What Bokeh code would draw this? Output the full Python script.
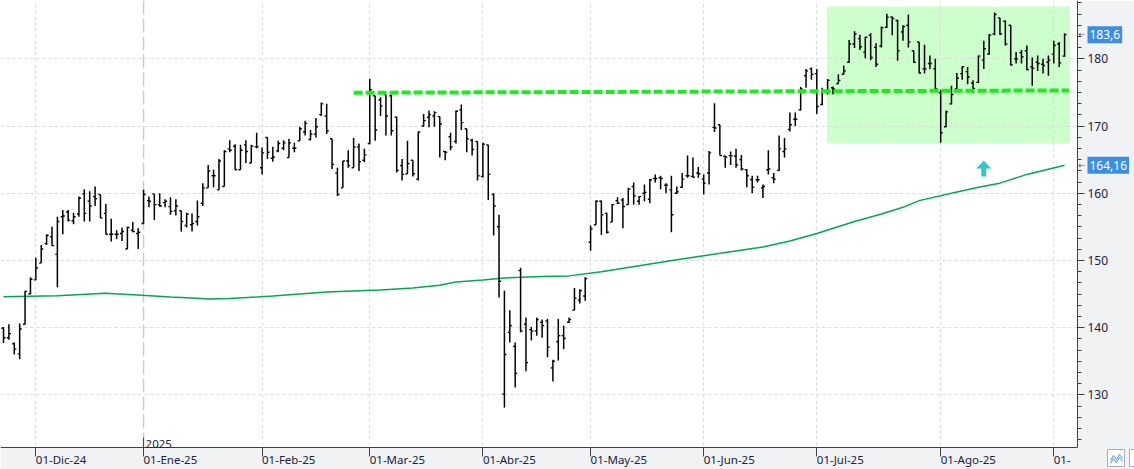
import pandas as pd
from bokeh.plotting import figure
from bokeh.models import Range1d, FixedTicker, SingleIntervalTicker, Span, Label, ColumnDataSource
from bokeh.embed import file_html
from bokeh.resources import INLINE

# ---------------- data ----------------
holidays = ["2024-12-25", "2024-12-26", "2025-01-01", "2025-04-18", "2025-04-21", "2025-05-01"]
dates = [d for d in pd.bdate_range("2024-11-22", "2025-09-03") if d.strftime("%Y-%m-%d") not in holidays]

opens = [
    139.9, 138.5, 137.6, 136.1, 140.5, 145.0, 147.1, 149.6, 152.5, 153.5,
    150.9, 156.5, 157.2, 155.9, 156.9, 159.9, 158.8, 159.5, 159.8, 157.0,
    153.9, 153.9, 154.0, 151.7, 154.5, 154.0, 155.5, 158.9, 159.9, 158.3,
    158.6, 158.0, 157.4, 157.4, 155.2, 155.3, 155.8, 158.5, 160.8, 162.6,
    160.5, 161.0, 166.6, 167.0, 163.5, 167.2, 164.5, 166.9, 163.8, 168.3,
    165.2, 166.3, 166.7, 165.3, 166.7, 167.8, 169.1, 168.0, 168.8, 171.7,
    171.5, 168.1, 163.0, 160.8, 164.8, 163.8, 166.9, 164.9, 167.4, 174.5,
    173.9, 174.7, 174.5, 171.3, 164.1, 162.9, 164.9, 162.1, 170.0, 171.3,
    171.5, 171.4, 166.2, 168.4, 167.7, 172.4, 169.6, 167.9, 167.7, 162.5,
    167.2, 159.8, 155.0, 130.1, 139.3, 137.2, 148.5, 140.5, 139.7, 139.5,
    140.8, 141.0, 134.0, 137.9, 138.8, 140.8, 142.6, 144.1, 144.7, 152.7,
    155.3, 158.8, 157.0, 155.7, 158.9, 159.0, 158.3, 161.0, 158.8, 160.0,
    159.1, 162.2, 162.3, 161.2, 160.5, 160.0, 160.9, 162.6, 162.5, 163.0,
    162.1, 163.0, 169.8, 170.2, 165.5, 165.6, 165.5, 165.0, 163.5, 162.0,
    162.0, 160.8, 163.5, 162.3, 163.4, 166.2, 169.5, 171.0, 172.4, 177.5,
    178.5, 177.8, 173.2, 175.0, 175.7, 176.3, 177.7, 179.5, 182.2, 183.0,
    181.0, 183.5, 181.7, 181.9, 184.7, 186.2, 185.7, 184.0, 185.0, 181.2,
    182.5, 178.5, 179.3, 178.5, 175.0, 169.9, 173.3, 175.5, 177.8, 178.1,
    176.4, 176.5, 179.8, 180.7, 183.7, 186.1, 185.6, 185.0, 180.0, 180.9,
    181.2, 178.8, 179.5, 179.2, 179.5, 180.7, 182.2, 180.4,
]
highs = [
    140.1, 140.5, 137.8, 140.6, 145.5, 147.5, 150.4, 152.3, 153.9, 155.0,
    156.5, 157.5, 157.5, 157.1, 159.5, 160.6, 160.3, 161.0, 159.8, 158.4,
    156.2, 154.5, 154.9, 155.0, 155.7, 154.8, 160.5, 159.5, 159.9, 160.0,
    159.1, 159.4, 159.1, 157.4, 157.1, 157.0, 158.9, 161.5, 164.2, 163.5,
    165.1, 166.4, 167.9, 167.3, 167.2, 167.9, 167.2, 169.0, 166.8, 168.3,
    166.9, 167.8, 167.9, 168.1, 167.5, 169.9, 170.8, 169.4, 171.2, 173.5,
    173.3, 168.1, 163.8, 164.8, 166.4, 168.2, 167.4, 166.6, 177.0, 174.5,
    174.3, 174.7, 174.7, 171.4, 165.1, 167.8, 164.9, 169.2, 171.8, 172.3,
    172.2, 171.4, 166.3, 169.0, 172.3, 173.2, 169.6, 168.1, 167.7, 167.5,
    167.2, 160.0, 156.8, 145.5, 142.6, 137.8, 148.9, 141.5, 140.1, 141.5,
    141.2, 141.3, 135.2, 141.3, 140.3, 141.5, 145.9, 145.7, 147.5, 155.2,
    158.9, 158.9, 157.1, 158.4, 159.4, 159.3, 160.8, 161.6, 159.6, 161.3,
    162.1, 162.8, 162.6, 161.5, 162.6, 161.0, 163.0, 165.6, 165.3, 163.9,
    162.8, 166.3, 173.4, 170.2, 165.6, 166.2, 166.6, 165.7, 163.6, 162.6,
    162.6, 161.3, 166.4, 163.0, 168.6, 168.2, 172.0, 172.0, 175.8, 178.5,
    178.7, 178.5, 175.7, 177.0, 175.9, 177.7, 179.0, 182.8, 184.1, 183.6,
    183.3, 183.8, 182.3, 184.8, 186.7, 186.3, 185.8, 185.0, 186.6, 181.2,
    182.5, 182.1, 180.5, 180.0, 175.4, 172.3, 176.0, 177.9, 178.9, 178.8,
    176.8, 180.5, 182.7, 183.7, 186.9, 186.1, 185.7, 185.0, 181.0, 181.3,
    182.0, 180.2, 180.5, 180.0, 180.5, 182.7, 182.5, 183.8,
]
lows = [
    137.7, 138.2, 136.0, 135.3, 140.5, 145.0, 147.1, 149.6, 152.3, 152.2,
    146.0, 153.9, 155.8, 155.4, 156.5, 155.8, 155.8, 158.1, 156.3, 153.9,
    152.8, 153.2, 152.9, 151.7, 154.2, 151.7, 155.5, 157.9, 156.0, 158.0,
    157.9, 156.8, 156.7, 154.3, 154.9, 154.3, 155.2, 158.1, 160.8, 160.9,
    160.5, 161.0, 166.1, 163.5, 163.5, 164.5, 164.5, 166.7, 162.8, 165.1,
    164.7, 166.1, 166.4, 165.3, 166.1, 167.8, 168.6, 167.9, 168.3, 171.5,
    168.8, 163.6, 159.6, 160.8, 163.8, 163.8, 163.3, 164.6, 167.3, 167.8,
    171.5, 168.6, 168.6, 163.1, 161.9, 162.9, 162.5, 161.9, 169.9, 169.8,
    169.9, 165.3, 164.9, 166.4, 167.4, 169.4, 166.1, 165.6, 161.9, 162.3,
    159.0, 153.7, 144.5, 128.1, 137.8, 131.1, 139.3, 133.5, 138.1, 138.8,
    138.5, 135.6, 132.0, 135.1, 136.8, 140.7, 142.6, 143.6, 144.0, 151.45,
    155.3, 153.8, 154.0, 155.7, 158.4, 154.8, 158.3, 158.3, 158.3, 158.8,
    158.5, 161.6, 160.6, 160.0, 154.2, 159.9, 160.8, 162.3, 162.3, 162.3,
    159.8, 161.3, 169.1, 165.6, 163.8, 164.2, 163.8, 163.4, 160.9, 160.0,
    161.6, 159.3, 162.8, 161.5, 163.3, 165.3, 169.2, 170.0, 172.3, 175.7,
    176.9, 171.8, 173.1, 174.7, 174.7, 176.3, 177.7, 179.4, 181.6, 181.3,
    180.1, 179.8, 178.8, 181.7, 184.6, 183.5, 179.7, 182.7, 181.7, 179.4,
    177.8, 177.8, 178.5, 175.4, 167.5, 169.8, 173.2, 175.3, 176.9, 176.2,
    174.9, 176.4, 178.5, 180.6, 183.5, 183.6, 182.0, 179.0, 179.3, 179.3,
    178.3, 176.0, 178.2, 177.8, 177.5, 179.3, 178.8, 180.3,
]
closes = [
    138.5, 139.1, 136.8, 139.8, 145.4, 147.2, 148.9, 151.7, 153.7, 152.2,
    155.8, 156.6, 156.0, 156.5, 159.3, 157.0, 158.1, 159.2, 156.3, 153.9,
    153.9, 153.9, 154.3, 154.9, 154.3, 154.2, 159.8, 158.8, 158.3, 158.1,
    158.8, 157.3, 158.1, 155.8, 156.9, 155.5, 156.5, 160.8, 163.3, 162.6,
    164.8, 166.2, 166.4, 163.5, 166.4, 166.2, 167.0, 166.9, 166.0, 166.1,
    165.4, 167.4, 167.5, 167.5, 166.7, 169.6, 170.4, 168.8, 169.9, 173.3,
    169.3, 164.3, 159.8, 164.8, 164.1, 166.9, 164.7, 165.7, 175.4, 169.4,
    173.0, 171.5, 169.3, 163.4, 162.8, 164.4, 162.9, 169.1, 170.8, 171.7,
    172.0, 170.3, 166.1, 166.9, 172.2, 170.5, 168.1, 166.5, 162.6, 167.3,
    162.8, 158.1, 146.9, 136.0, 140.3, 133.2, 139.5, 134.8, 139.5, 141.2,
    140.3, 137.1, 135.0, 138.8, 138.4, 141.2, 144.4, 145.5, 147.3, 154.7,
    158.8, 156.8, 154.2, 158.3, 158.5, 158.0, 160.6, 159.6, 159.5, 160.1,
    162.0, 162.2, 162.2, 161.2, 156.8, 160.2, 162.1, 162.6, 162.4, 162.9,
    161.5, 166.0, 169.7, 165.6, 165.4, 165.6, 164.2, 163.6, 162.6, 160.9,
    162.0, 161.0, 163.6, 162.1, 166.6, 166.6, 170.2, 171.0, 175.5, 178.2,
    177.7, 172.9, 175.2, 176.8, 175.5, 176.8, 178.2, 182.2, 183.7, 181.8,
    183.2, 180.2, 179.2, 184.6, 186.2, 186.0, 181.2, 184.8, 182.5, 179.5,
    177.9, 178.5, 179.3, 175.5, 169.0, 172.1, 174.7, 177.1, 178.8, 177.3,
    175.6, 180.4, 181.5, 183.5, 186.6, 183.7, 182.2, 179.1, 180.0, 180.3,
    178.4, 178.6, 179.3, 179.0, 179.8, 182.0, 179.4, 183.6,
]

# 200-session moving average, read at selected sessions
ma_idx = [0, 10, 19, 24, 28, 31, 35, 38, 42, 47, 50, 55, 60, 66, 70, 76, 81, 84, 89, 93,
          100, 105, 111, 118, 125, 130, 135, 141, 146, 151, 158, 163, 167, 170, 176, 181, 185, 190, 197]
ma_val = [144.6, 144.75, 145.1, 144.9, 144.7, 144.55, 144.4, 144.25, 144.35, 144.55, 144.7, 145.0,
          145.3, 145.5, 145.6, 145.9, 146.3, 146.8, 147.1, 147.4, 147.6, 147.7, 148.3, 149.2, 150.1,
          150.7, 151.3, 152.0, 152.9, 154.0, 155.8, 156.9, 157.9, 158.9, 160.0, 160.9, 161.5, 162.8, 164.16]

month_labels = ["01-Dic-24", "01-Ene-25", "01-Feb-25", "01-Mar-25", "01-Abr-25",
                "01-May-25", "01-Jun-25", "01-Jul-25", "01-Ago-25", "01-"]
year_label = "2025"
last_close_text = "183,6"
ma_last_text = "164,16"

# drawn annotations (session index / price)
zone_x = [152.9, 198.0]
zone_y = [167.45, 187.8]
res_x = [65.0, 197.8]
res_y = [174.95, 175.3]
arrow_idx = 182.0
arrow_base = 162.5

# ---------------- layout ----------------
W, H = 1134, 469
plot_w, plot_h = 1077, 447            # price area inside the canvas
x_lo, x_plot_hi = -0.56, 199.4
y_ax, y_hi = 122.16, 188.68
sx = (x_plot_hi - x_lo) / plot_w       # data units per pixel
sy = (y_hi - y_ax) / plot_h
x_full_hi = x_lo + W * sx
y_full_lo = y_hi - H * sy


def X(px):
    return x_lo + px * sx


def Y(py):
    return y_hi - py * sy


n = len(opens)
idx = list(range(n))
src = ColumnDataSource(dict(x=idx, xl=[i - 0.38 for i in idx], xr=[i + 0.38 for i in idx],
                            o=opens, h=highs, l=lows, c=closes))

p = figure(width=W, height=H, output_backend="svg", toolbar_location=None,
           x_range=Range1d(x_lo, x_full_hi), y_range=Range1d(y_full_lo, y_hi),
           y_axis_location="right", x_axis_location="below", min_border=0)
p.outline_line_color = None
p.background_fill_color = "white"
PANEL = "#f1f2f4"
p.border_fill_color = PANEL

month_idx = [i for i in range(1, n) if dates[i].month != dates[i - 1].month]
jan_idx = month_idx[1]

FONT = "Noto Sans"
TXT = "#20213d"
AXC = "#404040"

# grids
p.ygrid.ticker = SingleIntervalTicker(interval=10)
p.ygrid.grid_line_color = "#d9d9d9"
p.ygrid.grid_line_dash = "3 3"
p.xgrid.ticker = FixedTicker(ticks=[t for t in month_idx if t != jan_idx])
p.xgrid.grid_line_color = "#d9d9d9"
p.xgrid.grid_line_dash = "3 3"

# support zone
p.quad(left=zone_x[0], right=zone_x[1], bottom=zone_y[0], top=zone_y[1],
       fill_color="#ccffcc", line_color=None, level="image")

p.add_layout(Span(location=jan_idx, dimension="height", line_color="#cdcdcd",
                  line_dash="14 4", line_width=1.5, level="underlay"))

# axis panels (grey) drawn inside the canvas
p.quad(left=x_plot_hi, right=x_full_hi, bottom=y_full_lo, top=y_hi, fill_color=PANEL, line_color=None)
p.quad(left=x_lo, right=x_plot_hi, bottom=y_full_lo, top=y_ax, fill_color=PANEL, line_color=None)

# moving average
p.line(ma_idx, ma_val, line_color="#00a84f", line_width=1.5)

# OHLC bars
p.segment(x0="x", y0="l", x1="x", y1="h", source=src, line_color="black", line_width=1.5)
p.segment(x0="xl", y0="o", x1="x", y1="o", source=src, line_color="black", line_width=1.4)
p.segment(x0="x", y0="c", x1="xr", y1="c", source=src, line_color="black", line_width=1.4)

# resistance line
p.line(res_x, res_y, line_color="#1eea1e", line_width=4, line_dash="9 3")

# arrow
axs = [arrow_idx - 2.5 * sx, arrow_idx + 2.5 * sx, arrow_idx + 2.5 * sx, arrow_idx + 7.5 * sx,
       arrow_idx, arrow_idx - 7.5 * sx, arrow_idx - 2.5 * sx]
ays = [arrow_base, arrow_base, arrow_base + 8 * sy, arrow_base + 8 * sy,
       arrow_base + 16 * sy, arrow_base + 8 * sy, arrow_base + 8 * sy]
p.patch(axs, ays, fill_color="#36c6c9", line_color=None)

# year tick
p.segment(x0=jan_idx, y0=y_ax, x1=jan_idx, y1=y_ax + 10 * sy, line_color=AXC, line_width=1)

# x axis (drawn at the bottom of the price area)
ax = p.xaxis[0]
ax.fixed_location = y_ax
ax.bounds = (x_lo, x_plot_hi)
ax.ticker = FixedTicker(ticks=month_idx)
ax.major_label_overrides = {t: lab for t, lab in zip(month_idx, month_labels)}
ax.major_label_orientation = -1e-6
ax.major_label_standoff = 3
ax.major_tick_out = 9
ax.major_tick_in = 0
ax.minor_tick_out = 0
ax.axis_line_color = AXC
ax.major_tick_line_color = AXC
ax.major_label_text_font = FONT
ax.major_label_text_font_size = "11.5px"
ax.major_label_text_color = TXT

# y axis on the right
ay = p.yaxis[0]
ay.fixed_location = x_plot_hi
ay.bounds = (y_ax, y_hi)
ay.ticker = SingleIntervalTicker(interval=10, num_minor_ticks=6)
ay.major_tick_out = 7
ay.major_tick_in = 0
ay.minor_tick_out = 4
ay.minor_tick_in = 0
ay.axis_line_color = AXC
ay.major_tick_line_color = AXC
ay.minor_tick_line_color = AXC
ay.major_label_standoff = 3
ay.major_label_text_font = FONT
ay.major_label_text_font_size = "12px"
ay.major_label_text_color = TXT

p.add_layout(Label(x=jan_idx, y=y_ax, x_offset=2, y_offset=4, text=year_label, text_align="left",
                   text_baseline="alphabetic", text_font=FONT, text_font_size="11.5px", text_color=TXT))

# value boxes on the price axis
for yv, txt in [(closes[-1], last_close_text), (ma_val[-1], ma_last_text)]:
    p.add_layout(Label(x=x_plot_hi, y=yv, x_offset=1, text="\u2190", text_align="left",
                       text_baseline="middle", text_font="DejaVu Sans", text_font_size="8px",
                       text_color="#555555"))
    p.add_layout(Label(x=x_plot_hi, y=yv, x_offset=10, text=txt, text_align="left",
                       text_baseline="middle", text_font=FONT, text_font_size="12px",
                       text_color="white", background_fill_color="#3d8ee2", padding=(2, 4)))

# small window buttons in the bottom-right corner
p.quad(left=[X(1107), X(1129)], right=[X(1124), X(1146)], bottom=[Y(466), Y(466)], top=[Y(449), Y(449)],
       fill_color="white", line_color="#a8acb2", line_width=1)
p.multi_line(xs=[[X(1110), X(1113), X(1116), X(1119), X(1122)], [X(1110), X(1113), X(1116), X(1119), X(1122)]],
             ys=[[Y(460), Y(455), Y(459), Y(454), Y(458)], [Y(463), Y(458), Y(462), Y(457), Y(461)]],
             line_color="#4a90d9", line_width=1)

open("out.html", "w").write(file_html(p, INLINE))
